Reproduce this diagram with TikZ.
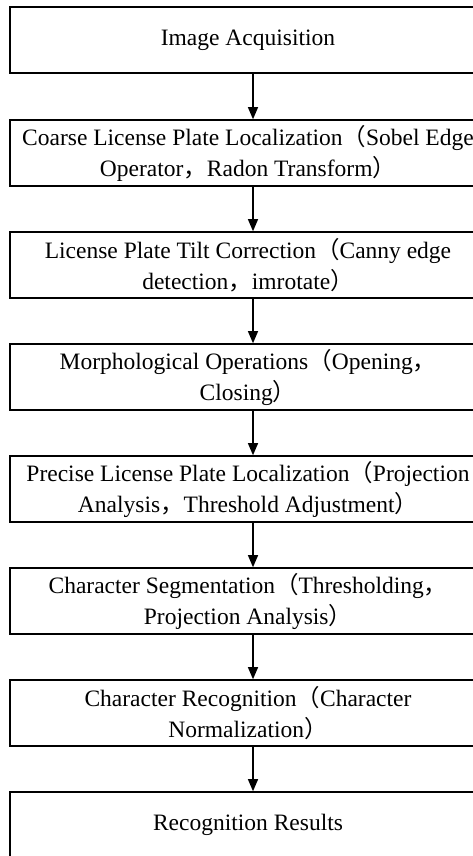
\documentclass[tikz,border=0pt]{standalone}
\usepackage{fontspec}
\setmainfont{Liberation Serif}
\newfontfamily\cjk{Noto Sans CJK SC}
\usetikzlibrary{arrows.meta}
\newcommand\LP{{\cjk （}}
\newcommand\RP{{\cjk ）}}
\newcommand\CM{{\cjk ，}}
\begin{document}
\begin{tikzpicture}[x=1pt,y=-1pt,
  box/.style={draw, line width=1.6pt, rectangle, minimum width=476pt, minimum height=66pt,
    inner sep=0pt, align=center, font=\fontsize{23.5}{31}\selectfont},
  arr/.style={line width=1.2pt, -{Triangle[width=10pt,length=12pt]}}]
\useasboundingbox (0,0) rectangle (473,856);
\clip (0,0) rectangle (473,856);
\coordinate (ax) at (253,0);
\node[box] (b1) at (248,40) {Image Acquisition};
\node[box] (b2) at (248,153) {Coarse License Plate Localization\LP Sobel Edge\\Operator\CM Radon Transform\RP};
\node[box] (b3) at (248,265) {License Plate Tilt Correction\LP Canny edge\\detection\CM imrotate\RP};
\node[box] (b4) at (248,377) {Morphological Operations\LP Opening\CM\\Closing\RP};
\node[box] (b5) at (248,489) {Precise License Plate Localization\LP Projection\\Analysis\CM Threshold Adjustment\RP};
\node[box] (b6) at (248,601) {Character Segmentation\LP Thresholding\CM\\Projection Analysis\RP};
\node[box] (b7) at (248,713) {Character Recognition\LP Character\\Normalization\RP};
\node[box] (b8) at (248,825) {Recognition Results};
\foreach \a/\b in {b1/b2,b2/b3,b3/b4,b4/b5,b5/b6,b6/b7,b7/b8}
  \draw[arr] (\a.south -| ax) -- (\b.north -| ax);
\end{tikzpicture}
\end{document}
